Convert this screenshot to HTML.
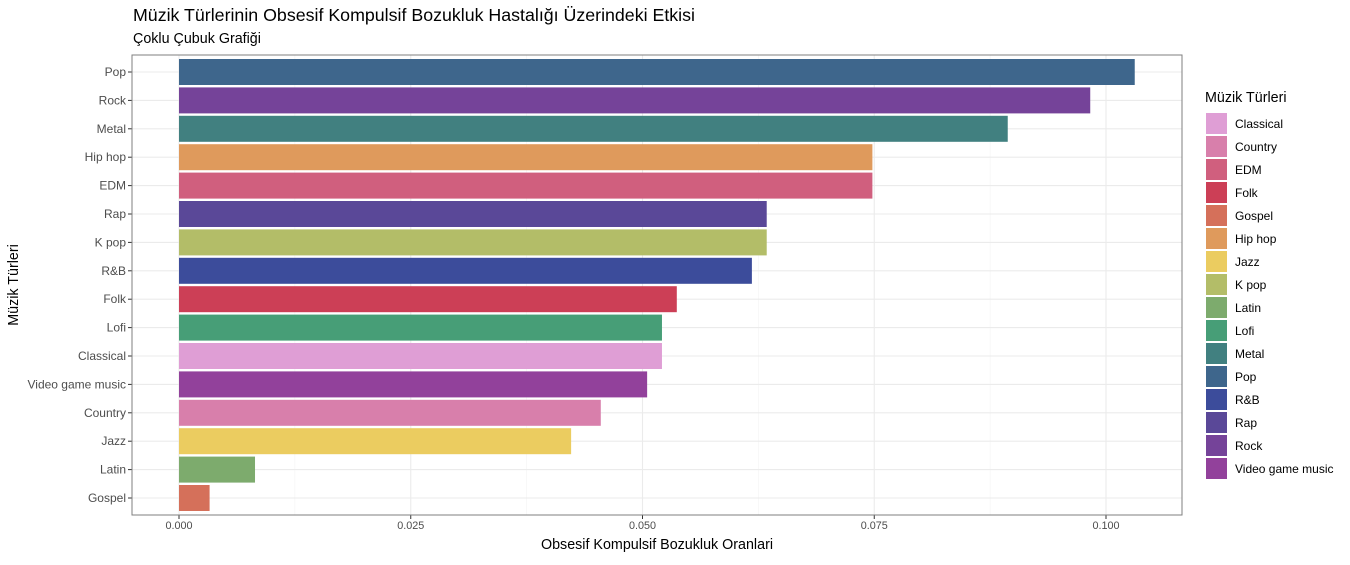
<!DOCTYPE html>
<html><head><meta charset="utf-8"><style>
body{margin:0;background:#fff;font-family:"Liberation Sans",sans-serif}
</style></head><body>
<svg id="c" width="1350" height="560" xmlns="http://www.w3.org/2000/svg" font-family="Liberation Sans, sans-serif">
<text x="133" y="21" font-size="17.8" fill="#000">Müzik Türlerinin Obsesif Kompulsif Bozukluk Hastalığı Üzerindeki Etkisi</text>
<text x="133" y="43" font-size="14.3" fill="#000">Çoklu Çubuk Grafiği</text>
<g id="grid"></g><g id="bars"></g><g id="axes"></g><g id="legend"></g>
<text x="657" y="549" font-size="14.3" text-anchor="middle">Obsesif Kompulsif Bozukluk Oranlari</text>
<text transform="translate(18,285) rotate(-90)" font-size="14.3" text-anchor="middle">Müzik Türleri</text>
</svg>
<script>
const categories=["Pop","Rock","Metal","Hip hop","EDM","Rap","K pop","R&B","Folk","Lofi","Classical","Video game music","Country","Jazz","Latin","Gospel"];
const values=[0.1031,0.0983,0.0894,0.0748,0.0748,0.0634,0.0634,0.0618,0.0537,0.0521,0.0521,0.0505,0.0455,0.0423,0.0082,0.0033];
const xTicks=[0,0.025,0.05,0.075,0.1];
const xTickLabels=["0.000","0.025","0.050","0.075","0.100"];
const legendLabels=["Classical","Country","EDM","Folk","Gospel","Hip hop","Jazz","K pop","Latin","Lofi","Metal","Pop","R&B","Rap","Rock","Video game music"];
const legendColors=["#DF9ED5","#D87FAB","#D05F7E","#CC3F56","#D5705A","#DF9A5C","#EBCC60","#B3BD68","#7DAB6D","#479E77","#418080","#3E668C","#3C4C9B","#5A4898","#754399","#92419B"];
const NS="http://www.w3.org/2000/svg";
const L=132,R=1182,T=55,B=515;
const x=v=>179+v*9270;
const y=i=>72+i*(498-72)/(categories.length-1);
function mk(p,t,a){const e=document.createElementNS(NS,t);for(const k in a)e.setAttribute(k,a[k]);document.getElementById(p).appendChild(e);return e;}
mk("grid","rect",{x:L,y:T,width:R-L,height:B-T,fill:"#fff"});
for(let i=0;i<xTicks.length-1;i++){const m=(xTicks[i]+xTicks[i+1])/2;const g=mk("grid","line",{x1:x(m),x2:x(m),y1:T,y2:B,stroke:"#F2F2F2","stroke-width":0.6});

}
xTicks.forEach((t,i)=>{const g=mk("grid","line",{x1:x(t),x2:x(t),y1:T,y2:B,stroke:"#EBEBEB","stroke-width":1.1});


mk("axes","line",{x1:x(t),x2:x(t),y1:B,y2:B+4,stroke:"#333"});
const tx=mk("axes","text",{x:x(t),y:B+14,"font-size":10.8,"text-anchor":"middle",fill:"#4D4D4D"});tx.textContent=xTickLabels[i];

});
categories.forEach((c,i)=>{const g=mk("grid","line",{x1:L,x2:R,y1:y(i),y2:y(i),stroke:"#EBEBEB","stroke-width":1.1});


const col=legendColors[legendLabels.indexOf(c)];
const b=mk("bars","rect",{x:x(0),y:y(i)-13,width:x(values[i])-x(0),height:26,fill:col});


mk("axes","line",{x1:L-4,x2:L,y1:y(i),y2:y(i),stroke:"#333"});
const tx=mk("axes","text",{x:L-6,y:y(i)+4,"font-size":12,"text-anchor":"end",fill:"#4D4D4D"});tx.textContent=c;

});
const bd=mk("axes","rect",{x:L,y:T,width:R-L,height:B-T,fill:"none",stroke:"#7F7F7F","stroke-width":1});


const lt=mk("legend","text",{x:1205,y:102,"font-size":14.3});lt.textContent="Müzik Türleri";


legendLabels.forEach((l,i)=>{const yy=113+i*23;
const k=mk("legend","rect",{x:1206,y:yy,width:21,height:21,fill:legendColors[i]});


const t=mk("legend","text",{x:1235,y:yy+15,"font-size":12});t.textContent=l;

});
</script>
</body></html>
